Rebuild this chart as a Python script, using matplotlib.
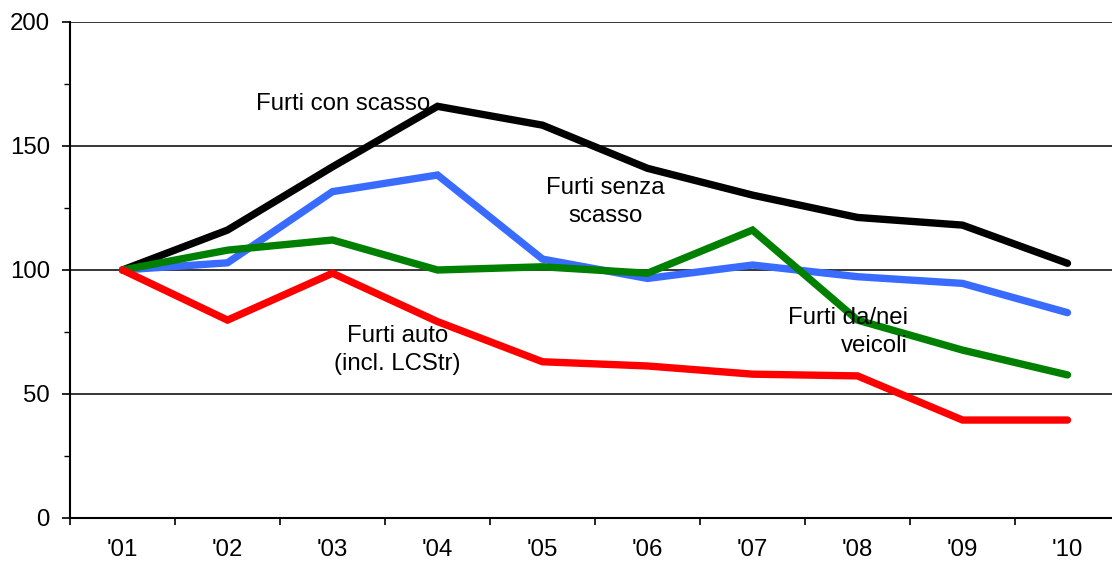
import matplotlib
matplotlib.use("Agg")
import matplotlib.pyplot as plt
from matplotlib.ticker import MultipleLocator

plt.rcParams['font.family'] = ['Liberation Sans', 'DejaVu Sans']

years = ["'01", "'02", "'03", "'04", "'05", "'06", "'07", "'08", "'09", "'10"]
con_scasso = [100, 116.1, 141.6, 166.0, 158.4, 141.0, 130.2, 121.2, 118.1, 102.7]
senza_scasso = [100, 102.9, 131.6, 138.3, 104.4, 96.6, 102.0, 97.3, 94.6, 82.8]
da_nei_veicoli = [100, 108.0, 112.1, 100.0, 101.3, 98.7, 116.1, 79.8, 67.7, 57.7]
auto_lcstr = [100, 79.8, 98.7, 79.2, 63.0, 61.3, 58.0, 57.3, 39.5, 39.5]

fig = plt.figure(figsize=(11.12, 5.66), dpi=100)
ax = fig.add_axes([70 / 1112, 1 - 518 / 566, 1 - 70 / 1112, (518 - 22) / 566])

x = list(range(len(years)))
series = [
    (con_scasso, '#000000'),
    (senza_scasso, '#3A6BFF'),
    (da_nei_veicoli, '#008000'),
    (auto_lcstr, '#FF0000'),
]
for vals, col in series:
    ax.plot(x, vals, color=col, lw=5.3, solid_capstyle='round',
            solid_joinstyle='miter', zorder=3)

ax.set_ylim(0, 200)
ax.set_xlim(-0.5, 9.5 - 8 / 105)
ax.yaxis.set_major_locator(MultipleLocator(50))
ax.yaxis.set_minor_locator(MultipleLocator(25))
ax.set_xticks(x)
ax.set_xticklabels(years)
ax.set_xticks([i - 0.5 for i in range(0, 10)], minor=True)

for yv in (50, 100, 150, 200):
    ax.axhline(yv, color='black', lw=1.1, zorder=1)

for s in ('top', 'right'):
    ax.spines[s].set_visible(False)
for s in ('left', 'bottom'):
    ax.spines[s].set_linewidth(1.5)

fs = 17.25
ax.tick_params(axis='y', which='major', length=6, width=1.2, labelsize=fs, pad=8.5)
ax.tick_params(axis='y', which='minor', length=4, width=1.0)
ax.tick_params(axis='x', which='major', length=0, labelsize=fs, pad=15)
ax.tick_params(axis='x', which='minor', length=5, width=1.2)

ax.text(2.1, 166.9, 'Furti con scasso', ha='center', va='center', fontsize=fs, zorder=4)
ax.text(4.6, 127.4, 'Furti senza\nscasso', ha='center', va='center', fontsize=fs,
        linespacing=1.31, zorder=4)
ax.text(2.62, 67.7, 'Furti auto\n(incl. LCStr)', ha='center', va='center', fontsize=fs,
        linespacing=1.31, zorder=4)
ax.text(7.48, 75.0, 'Furti da/nei\nveicoli', ha='right', va='center', fontsize=fs,
        linespacing=1.31, zorder=4)

fig.savefig('out.png', dpi=100)
